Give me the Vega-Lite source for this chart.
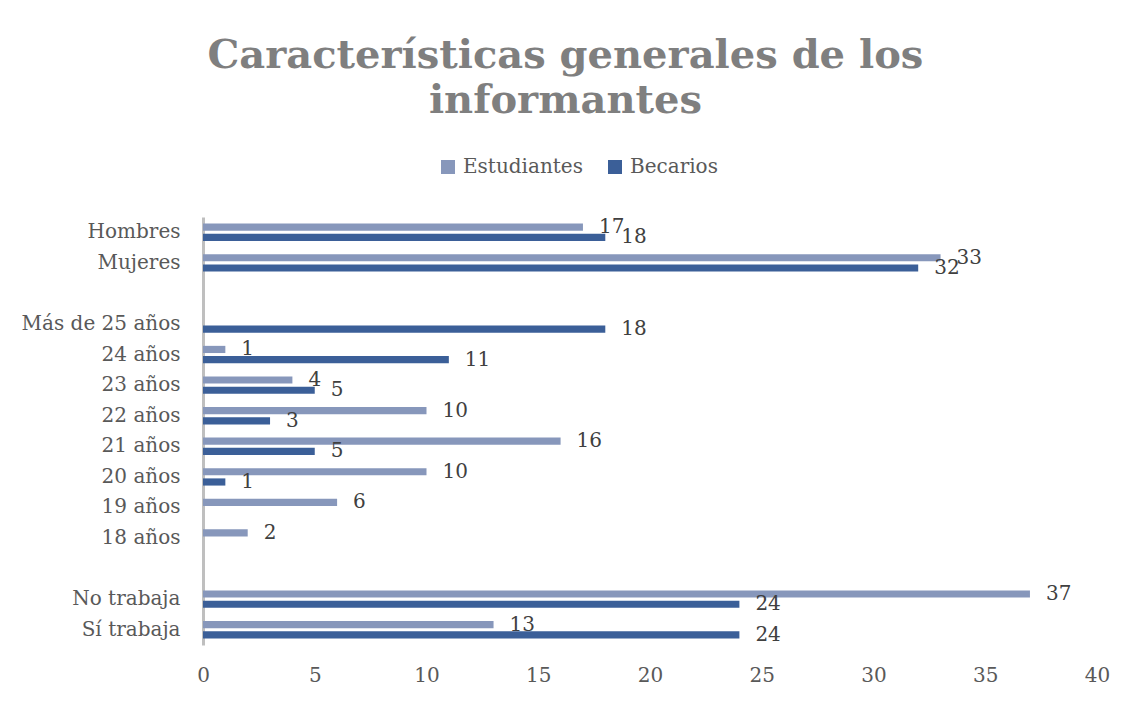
{
  "$schema": "https://vega.github.io/schema/vega-lite/v6.json",
  "width": 894,
  "height": 428,
  "autosize": {"type": "none"},
  "padding": {"left": 203, "top": 217, "right": 36, "bottom": 57},
  "background": "white",
  "title": {
    "text": ["Características generales de los", "informantes"],
    "font": "DejaVu Serif",
    "fontWeight": "bold",
    "fontSize": 40,
    "color": "#7f7f7f",
    "lineHeight": 45,
    "anchor": "middle",
    "frame": "bounds",
    "offset": 36
  },
  "data": {
    "values": [
      {"cat": "Hombres", "serie": "Estudiantes", "valor": 17},
      {"cat": "Hombres", "serie": "Becarios", "valor": 18},
      {"cat": "Mujeres", "serie": "Estudiantes", "valor": 33},
      {"cat": "Mujeres", "serie": "Becarios", "valor": 32},
      {"cat": "Más de 25 años", "serie": "Becarios", "valor": 18},
      {"cat": "24 años", "serie": "Estudiantes", "valor": 1},
      {"cat": "24 años", "serie": "Becarios", "valor": 11},
      {"cat": "23 años", "serie": "Estudiantes", "valor": 4},
      {"cat": "23 años", "serie": "Becarios", "valor": 5},
      {"cat": "22 años", "serie": "Estudiantes", "valor": 10},
      {"cat": "22 años", "serie": "Becarios", "valor": 3},
      {"cat": "21 años", "serie": "Estudiantes", "valor": 16},
      {"cat": "21 años", "serie": "Becarios", "valor": 5},
      {"cat": "20 años", "serie": "Estudiantes", "valor": 10},
      {"cat": "20 años", "serie": "Becarios", "valor": 1},
      {"cat": "19 años", "serie": "Estudiantes", "valor": 6},
      {"cat": "18 años", "serie": "Estudiantes", "valor": 2},
      {"cat": "No trabaja", "serie": "Estudiantes", "valor": 37},
      {"cat": "No trabaja", "serie": "Becarios", "valor": 24},
      {"cat": "Sí trabaja", "serie": "Estudiantes", "valor": 13},
      {"cat": "Sí trabaja", "serie": "Becarios", "valor": 24}
    ]
  },
  "encoding": {
    "y": {
      "field": "cat",
      "type": "nominal",
      "title": null,
      "scale": {
        "domain": ["Hombres", "Mujeres", " ", "Más de 25 años", "24 años", "23 años", "22 años", "21 años", "20 años", "19 años", "18 años", "  ", "No trabaja", "Sí trabaja"],
        "paddingInner": 0.43,
        "paddingOuter": 0.215
      },
      "axis": {
        "domainColor": "#bfbfbf",
        "domainWidth": 3,
        "ticks": false,
        "labelFont": "DejaVu Serif",
        "labelFontSize": 20,
        "labelColor": "#595959",
        "labelPadding": 23
      }
    },
    "yOffset": {
      "field": "serie",
      "type": "nominal",
      "scale": {"domain": ["Estudiantes", "Becarios"], "paddingInner": 0.3, "paddingOuter": 0}
    },
    "x": {
      "field": "valor",
      "type": "quantitative",
      "title": null,
      "scale": {"domain": [0, 40], "nice": false},
      "axis": {
        "values": [0, 5, 10, 15, 20, 25, 30, 35, 40],
        "domain": false,
        "ticks": false,
        "grid": false,
        "labelFlush": false,
        "labelFont": "DejaVu Serif",
        "labelFontSize": 20,
        "labelColor": "#595959",
        "labelPadding": 20
      }
    }
  },
  "layer": [
    {
      "mark": {"type": "bar"},
      "encoding": {
        "color": {
          "field": "serie",
          "type": "nominal",
          "title": null,
          "scale": {"domain": ["Estudiantes", "Becarios"], "range": ["#8797bb", "#3b5f98"]},
          "legend": {
            "orient": "none",
            "direction": "horizontal",
            "legendX": 235,
            "legendY": -60,
            "symbolType": "square",
            "symbolSize": 196,
            "symbolStrokeWidth": 0,
            "labelFont": "DejaVu Serif",
            "labelFontSize": 20,
            "labelColor": "#595959",
            "labelOffset": 5,
            "columnPadding": 22,
            "padding": 0
          }
        }
      }
    },
    {
      "mark": {
        "type": "text",
        "align": "left",
        "baseline": "middle",
        "dx": 16,
        "font": "DejaVu Serif",
        "fontSize": 20,
        "color": "#404040"
      },
      "encoding": {
        "text": {"field": "valor", "type": "quantitative"}
      }
    }
  ],
  "config": {
    "view": {"stroke": null}
  }
}
